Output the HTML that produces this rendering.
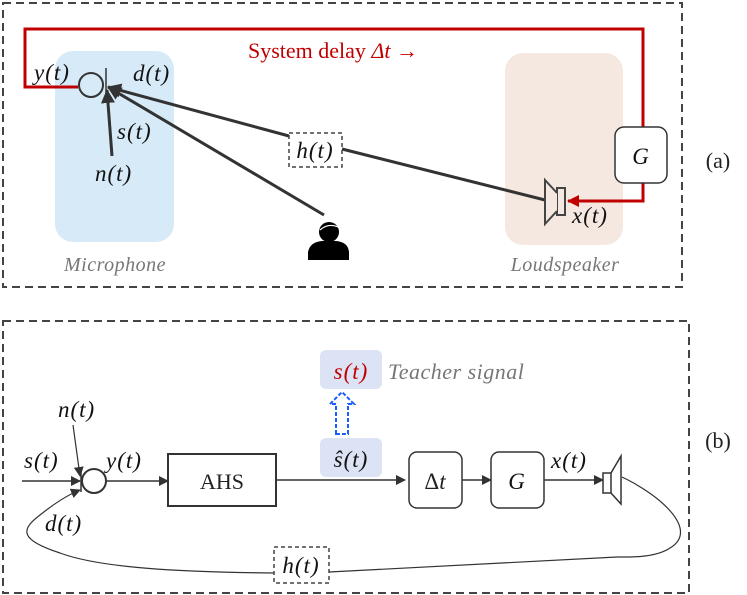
<!DOCTYPE html>
<html><head><meta charset="utf-8"><style>
html,body{margin:0;padding:0;background:#fff;}
svg{display:block;}
.m{font-family:"Liberation Serif",serif;font-style:italic;font-size:23px;fill:#111;letter-spacing:1px;}
.r{font-family:"Liberation Serif",serif;font-size:22px;fill:#222;}
.g{font-family:"Liberation Serif",serif;font-style:italic;font-size:20px;fill:#777;letter-spacing:0.5px;}
</style></head><body>
<svg width="747" height="595" viewBox="0 0 747 595" xmlns="http://www.w3.org/2000/svg">
<defs>
<marker id="ah" markerWidth="10" markerHeight="10" refX="9" refY="5" orient="auto" markerUnits="userSpaceOnUse"><path d="M0,0 L10,5 L0,10 z" fill="#333"/></marker>
<marker id="ahr" markerWidth="12" markerHeight="12" refX="11" refY="6" orient="auto" markerUnits="userSpaceOnUse"><path d="M0,0 L12,6 L0,12 z" fill="#c00000"/></marker>
<marker id="ahb" markerWidth="14" markerHeight="14" refX="13" refY="7" orient="auto" markerUnits="userSpaceOnUse"><path d="M0,0 L14,7 L0,14 z" fill="#333"/></marker>
</defs>
<!-- Panel a -->
<rect x="3" y="3" width="679" height="284" fill="none" stroke="#444" stroke-width="2" stroke-dasharray="8,5"/>
<rect x="55" y="51" width="119" height="191" rx="18" fill="#d6eaf8"/>
<rect x="505" y="53" width="118" height="192" rx="18" fill="#f5e8e0"/>
<polyline points="78,87 25,87 25,29 643,29 643,127" fill="none" stroke="#c00000" stroke-width="3"/>
<polyline points="643,183 643,201 568,201" fill="none" stroke="#c00000" stroke-width="3" marker-end="url(#ahr)"/>
<text x="248" y="58" font-family="Liberation Serif,serif" font-size="22" fill="#c00000">System delay <tspan font-style="italic">Δt</tspan> →</text>
<rect x="615" y="127" width="52" height="56" rx="9" fill="#fff" stroke="#333" stroke-width="1.5"/>
<text x="641" y="164" class="m" text-anchor="middle">G</text>
<circle cx="91" cy="85" r="12" fill="none" stroke="#333" stroke-width="2"/>
<line x1="106" y1="68" x2="106" y2="102" stroke="#333" stroke-width="1.5"/>
<line x1="112" y1="156" x2="107" y2="90" stroke="#333" stroke-width="3" marker-end="url(#ahb)"/>
<line x1="324" y1="215" x2="108" y2="87" stroke="#333" stroke-width="3" marker-end="url(#ahb)"/>
<line x1="289" y1="136" x2="108" y2="87" stroke="#333" stroke-width="3" marker-end="url(#ahb)"/>
<line x1="545" y1="200" x2="342" y2="149" stroke="#333" stroke-width="3"/>
<rect x="289" y="133" width="53" height="34" fill="#fff" stroke="#444" stroke-width="1.5" stroke-dasharray="4,3"/>
<text x="315" y="158" class="m" text-anchor="middle">h(t)</text>
<text x="34" y="80" class="m">y(t)</text>
<text x="133" y="81" class="m">d(t)</text>
<text x="117" y="139" class="m">s(t)</text>
<text x="95" y="181" class="m">n(t)</text>
<!-- person -->
<circle cx="329" cy="232" r="10" fill="#000"/>
<path d="M320,230 Q329,222 340,228" stroke="#fff" stroke-width="1.2" fill="none"/>
<path d="M308,260 L308,252 Q310,242 322,241 L336,241 Q348,242 349,252 L349,260 z" fill="#000"/>
<!-- speaker a -->
<rect x="557" y="188" width="8" height="27" fill="#f5e8e0" stroke="#444" stroke-width="2"/>
<path d="M557,193 L545,180 L545,224 L557,211" fill="#f5e8e0" stroke="#444" stroke-width="2"/>
<text x="572" y="223" class="m">x(t)</text>
<text x="115" y="271" class="g" text-anchor="middle">Microphone</text>
<text x="565" y="271" class="g" text-anchor="middle">Loudspeaker</text>
<text x="718" y="168" class="r" text-anchor="middle">(a)</text>
<!-- Panel b -->
<rect x="3" y="321" width="686" height="272" fill="none" stroke="#444" stroke-width="2" stroke-dasharray="8,5"/>
<rect x="320" y="350" width="62" height="39" rx="6" fill="#dbe3f4"/>
<text x="351" y="379" class="m" text-anchor="middle" style="fill:#c00000">s(t)</text>
<text x="388" y="379" class="g" style="font-size:22px">Teacher signal</text>
<path d="M336,434 L336,404 L330,404 L342,392 L354,404 L348,404 L348,434 z" fill="none" stroke="#1a5cff" stroke-width="2" stroke-dasharray="4,2"/>
<rect x="320" y="438" width="62" height="39" rx="6" fill="#dbe3f4"/>
<text x="351" y="467" class="m" text-anchor="middle">ŝ(t)</text>
<line x1="22" y1="481" x2="80" y2="481" stroke="#333" stroke-width="1.5" marker-end="url(#ah)"/>
<line x1="73" y1="425" x2="80" y2="476" stroke="#333" stroke-width="1.2" marker-end="url(#ah)"/>
<line x1="81" y1="470" x2="81" y2="492" stroke="#333" stroke-width="1.5"/>
<circle cx="94" cy="481" r="12" fill="#fff" stroke="#333" stroke-width="2"/>
<line x1="106" y1="481" x2="168" y2="481" stroke="#333" stroke-width="1.5" marker-end="url(#ah)"/>
<rect x="168" y="454" width="108" height="52" fill="#fff" stroke="#333" stroke-width="2"/>
<text x="222" y="489" class="r" text-anchor="middle">AHS</text>
<line x1="276" y1="480" x2="405" y2="480" stroke="#333" stroke-width="1.5" marker-end="url(#ah)"/>
<rect x="409" y="452" width="53" height="56" rx="8" fill="#fff" stroke="#333" stroke-width="1.5"/>
<text x="435" y="489" class="r" text-anchor="middle" style="font-size:23px">Δ<tspan font-style="italic">t</tspan></text>
<line x1="462" y1="480" x2="491" y2="480" stroke="#333" stroke-width="1.5" marker-end="url(#ah)"/>
<rect x="491" y="452" width="53" height="56" rx="8" fill="#fff" stroke="#333" stroke-width="1.5"/>
<text x="517" y="489" class="m" text-anchor="middle">G</text>
<line x1="544" y1="480" x2="603" y2="480" stroke="#333" stroke-width="1.5" marker-end="url(#ah)"/>
<rect x="603" y="473" width="8" height="20" fill="#fff" stroke="#333" stroke-width="1.5"/>
<path d="M611,473 L621,456 L621,504 L611,493" fill="none" stroke="#333" stroke-width="1.5"/>
<text x="24" y="468" class="m">s(t)</text>
<text x="58" y="417" class="m">n(t)</text>
<text x="106" y="468" class="m">y(t)</text>
<text x="45" y="531" class="m">d(t)</text>
<text x="551" y="468" class="m">x(t)</text>
<path d="M622,477 C660,495 700,530 670,548 C655,558 630,557 617,557 L329,572" fill="none" stroke="#333" stroke-width="1.2"/>
<path d="M274,573 C180,572 100,568 60,553 C20,540 20,530 40,515 C55,503 70,494 80,490" fill="none" stroke="#333" stroke-width="1.2" marker-end="url(#ah)"/>
<rect x="274" y="547" width="55" height="36" fill="#fff" stroke="#444" stroke-width="1.5" stroke-dasharray="4,3"/>
<text x="301" y="573" class="m" text-anchor="middle">h(t)</text>
<text x="718" y="448" class="r" text-anchor="middle">(b)</text>
</svg>
</body></html>
